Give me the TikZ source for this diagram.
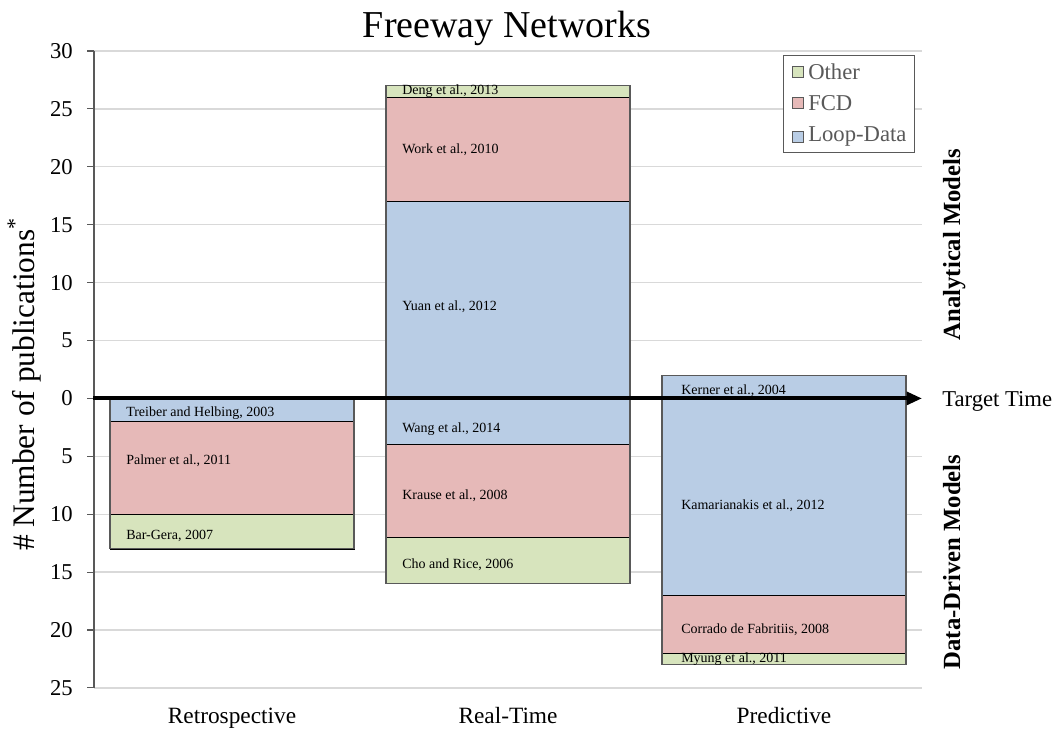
\documentclass[tikz,border=0pt]{standalone}
\usepackage{fontspec}
\setmainfont{Liberation Serif}
\usetikzlibrary{arrows.meta}
\definecolor{cother}{HTML}{D7E4BD}
\definecolor{cfcd}{HTML}{E6B9B8}
\definecolor{cloop}{HTML}{B9CDE5}
\definecolor{axisgray}{HTML}{595959}
\definecolor{gridgray}{HTML}{D9D9D9}
\tikzset{
  seg/.style={draw=black, line width=0.6pt},
  barframe/.style={draw=axisgray, line width=0.8pt},
  barlabel/.style={anchor=west, inner sep=0pt, font=\fontsize{10.5}{12}\selectfont},
  ticklabel/.style={anchor=east, inner sep=0pt, font=\fontsize{17}{20}\selectfont},
  catlabel/.style={anchor=base, inner sep=0pt, font=\fontsize{17.5}{20}\selectfont},
  legtext/.style={anchor=west, inner sep=0pt, text=axisgray, font=\fontsize{17}{20}\selectfont},
  legbox/.style={draw=axisgray, line width=0.6pt},
  sidelabel/.style={anchor=base, rotate=90, inner sep=0pt, font=\fontsize{18.5}{20}\selectfont\bfseries},
}
\begin{document}
\begin{tikzpicture}[x=0.75pt, y=-0.75pt,
  declare function={Y(\v)=398.4-11.58*\v;}]
\useasboundingbox (0,0) rectangle (1058,732);

% horizontal grid lines
\foreach \v in {30,25,...,-25}
  \draw[gridgray, line width=1pt] (94,{Y(\v)}) -- (922,{Y(\v)});

% vertical axis with ticks and labels
\draw[axisgray, line width=0.8pt] (94,{Y(30)}) -- (94,{Y(-25)});
\foreach \v/\t [count=\i] in {30/30,25/25,20/20,15/15,10/10,5/5,0/0,-5/5,-10/10,-15/15,-20/20,-25/25} {
  \draw[axisgray, line width=0.8pt] (87,{Y(\v)}) -- (94,{Y(\v)});
  \node[ticklabel] (tick\i) at (73,{Y(\v)}) {\t};
}

% Retrospective
\filldraw[seg, fill=cloop]  (110,{Y(0)})   rectangle (354,{Y(-2)});
\filldraw[seg, fill=cfcd]   (110,{Y(-2)})  rectangle (354,{Y(-10)});
\filldraw[seg, fill=cother] (110,{Y(-10)}) rectangle (354,{Y(-13)});
\draw[barframe] (110,{Y(0)}) rectangle (354,{Y(-13)});

% Real-Time
\filldraw[seg, fill=cother] (386,{Y(27)})  rectangle (630,{Y(26)});
\filldraw[seg, fill=cfcd]   (386,{Y(26)})  rectangle (630,{Y(17)});
\filldraw[seg, fill=cloop]  (386,{Y(17)})  rectangle (630,{Y(-4)});
\filldraw[seg, fill=cfcd]   (386,{Y(-4)})  rectangle (630,{Y(-12)});
\filldraw[seg, fill=cother] (386,{Y(-12)}) rectangle (630,{Y(-16)});
\draw[barframe] (386,{Y(27)}) rectangle (630,{Y(-16)});

% Predictive
\filldraw[seg, fill=cloop]  (662,{Y(2)})   rectangle (906,{Y(-17)});
\filldraw[seg, fill=cfcd]   (662,{Y(-17)}) rectangle (906,{Y(-22)});
\filldraw[seg, fill=cother] (662,{Y(-22)}) rectangle (906,{Y(-23)});
\draw[barframe] (662,{Y(2)}) rectangle (906,{Y(-23)});

% labels inside the bars
\node[barlabel] (treiber) at (126,413)   {Treiber and Helbing, 2003};
\node[barlabel] (palmer)  at (126,461)   {Palmer et al., 2011};
\node[barlabel] (bargera) at (126,535.5) {Bar-Gera, 2007};
\node[barlabel] (deng)    at (402,91.5)  {Deng et al., 2013};
\node[barlabel] (work)    at (402,150)   {Work et al., 2010};
\node[barlabel] (yuan)    at (402,307)   {Yuan et al., 2012};
\node[barlabel] (wang)    at (402,429)   {Wang et al., 2014};
\node[barlabel] (krause)  at (402,495.5) {Krause et al., 2008};
\node[barlabel] (cho)     at (402,565)   {Cho and Rice, 2006};
\node[barlabel] (kerner)  at (681,391)   {Kerner et al., 2004};
\node[barlabel] (kamar)   at (681,505.5) {Kamarianakis et al., 2012};
\node[barlabel] (corrado) at (681,629.3) {Corrado de Fabritiis, 2008};
\node[barlabel] (myung)   at (681,659)   {Myung et al., 2011};

% target-time arrow along zero
\coordinate (zero) at (93,{Y(0)});
\coordinate (target) at (922,{Y(0)});
\draw[line width=3pt, -{Triangle[length=11.5pt,width=9.5pt]}] (zero) -- (target);
\node[anchor=base west, inner sep=0pt, font=\fontsize{17}{20}\selectfont] (tt) at (942,406) {Target Time};

% legend
\draw[legbox, fill=white] (783,55) rectangle (914,152);
\filldraw[legbox, fill=cother] (792,66) rectangle (803,77);
\filldraw[legbox, fill=cfcd]   (792,97.5) rectangle (803,108.5);
\filldraw[legbox, fill=cloop]  (792,131) rectangle (803,142);
\node[legtext] (lother) at (808,71.5)  {Other};
\node[legtext] (lfcd)   at (808,103)   {FCD};
\node[legtext] (lloop)  at (808,136.5) {Loop-Data};

% category labels
\node[catlabel] (retro) at (232,723) {Retrospective};
\node[catlabel] (real)  at (508,723) {Real-Time};
\node[catlabel] (pred)  at (784,723) {Predictive};

% title and axis title
\node[anchor=base, inner sep=0pt, font=\fontsize{28.5}{32}\selectfont] (title) at (507,37) {Freeway Networks};
\node[anchor=base, rotate=90, inner sep=0pt, font=\fontsize{23.5}{26}\selectfont] (ylab) at (34,384.5) {\# Number of publications\textsuperscript{*}};

% side labels
\node[sidelabel] (analytic) at (960,244.5) {Analytical Models};
\node[sidelabel] (datadriv) at (960,562) {Data-Driven Models};
\end{tikzpicture}
\end{document}
